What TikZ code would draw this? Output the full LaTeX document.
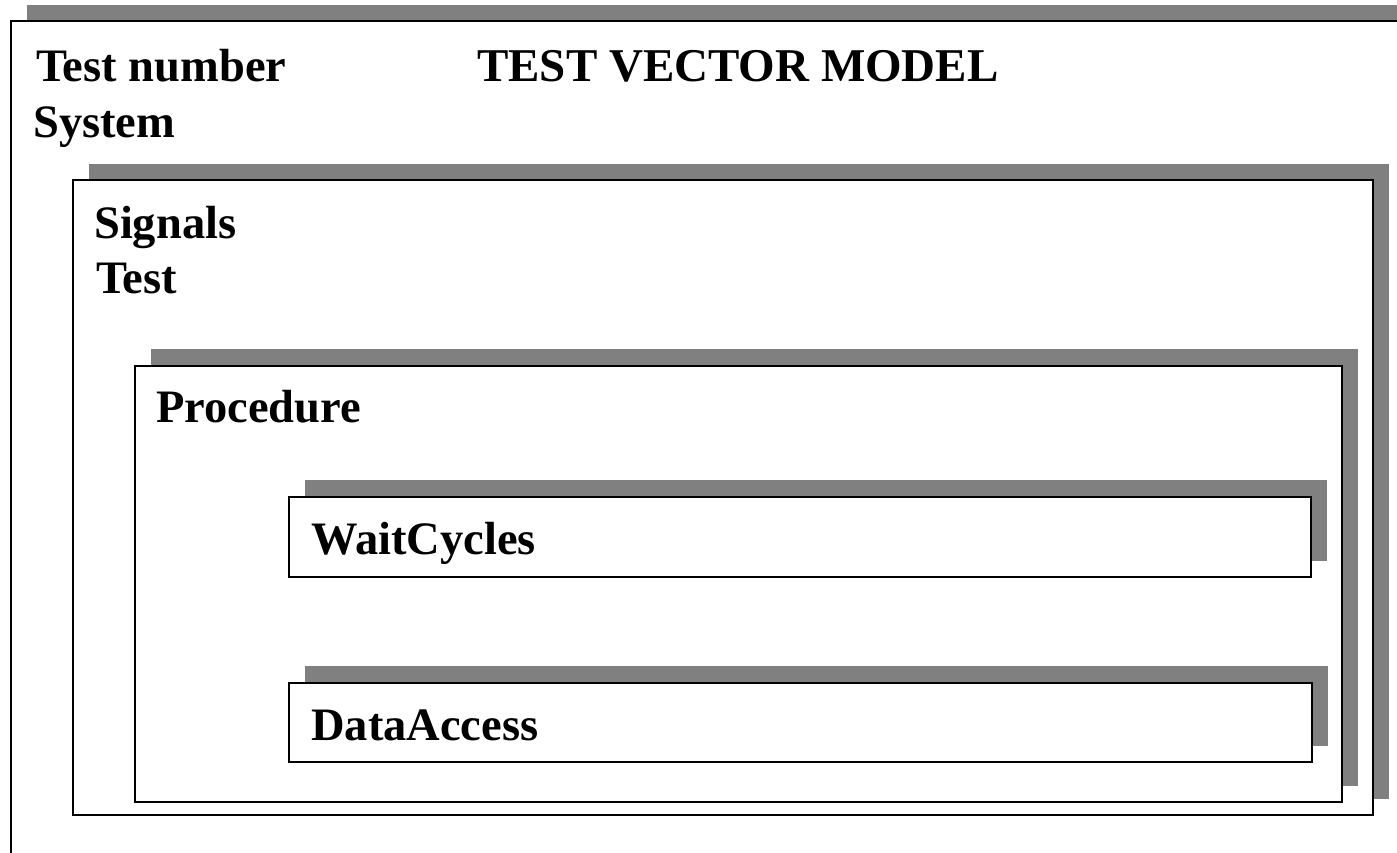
\documentclass[tikz,border=0pt]{standalone}
\usepackage{fontspec}
\setmainfont{Liberation Serif}
\begin{document}
\begin{tikzpicture}[x=1pt,y=-1pt,
  frame/.style={draw=black,line width=2pt,fill=white},
  shade/.style={fill=gray,draw=none},
  lbl/.style={anchor=base west,inner sep=0pt,font=\bfseries\fontsize{46.5}{56}\selectfont},
  ttl/.style={anchor=base west,inner sep=0pt,font=\bfseries\fontsize{47}{56}\selectfont}]
\useasboundingbox (0,0) rectangle (1397,852);
\begin{scope}
\clip (0,0) rectangle (1397,852);
% outer
\fill[shade] (27,5) rectangle (1436,864);
\draw[frame] (11,21) rectangle (1420,880);
% signals
\fill[shade] (89,164) rectangle (1389,799);
\draw[frame] (73,180) rectangle (1373,815);
% procedure
\fill[shade] (151,349) rectangle (1358,786);
\draw[frame] (135,366) rectangle (1342,802);
% waitcycles
\fill[shade] (305,480) rectangle (1327,561);
\draw[frame] (289,497) rectangle (1311,577);
% dataaccess
\fill[shade] (305,666) rectangle (1328,746);
\draw[frame] (289,683) rectangle (1312,762);
\end{scope}
\node[lbl] (testnum) at (36,81) {Test number};
\node[lbl] (system) at (33,137) {System};
\node[ttl] (title) at (477,81) {TEST VECTOR MODEL};
\node[lbl] (signals) at (94,238) {Signals};
\node[lbl] (test) at (96,293) {Test};
\node[lbl] (proc) at (156,422) {Procedure};
\node[lbl] (wait) at (311,554) {WaitCycles};
\node[lbl] (data) at (311,740) {DataAccess};
\end{tikzpicture}
\end{document}
